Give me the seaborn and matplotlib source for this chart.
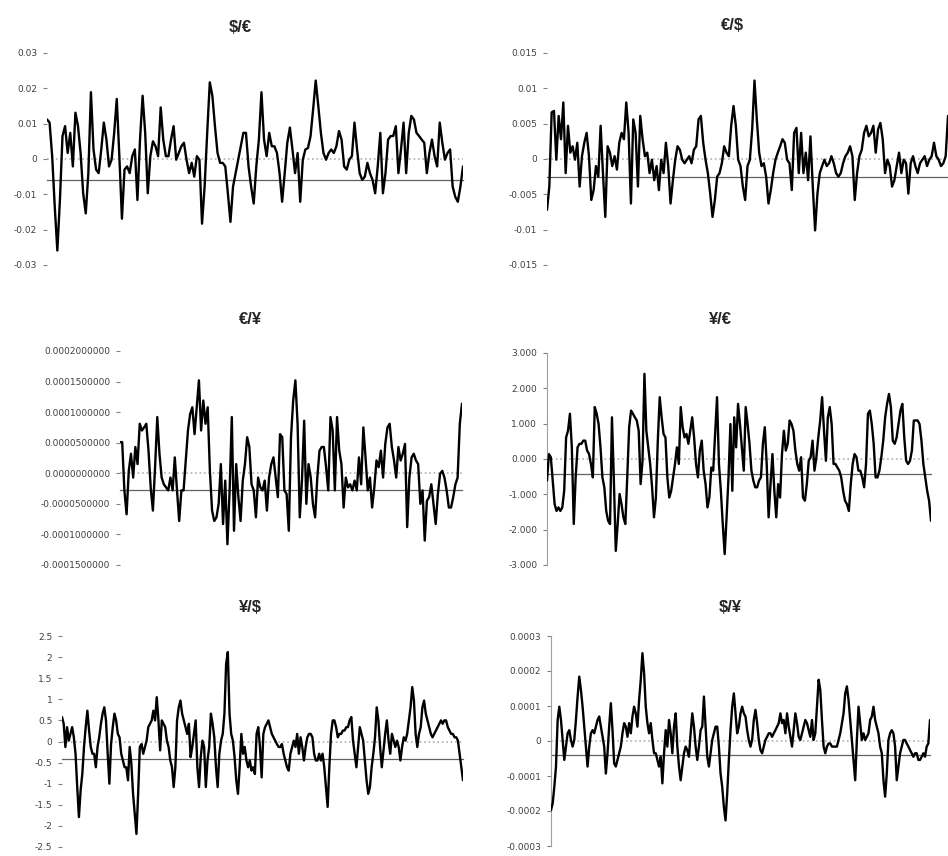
import numpy as np
import pandas as pd
import matplotlib
matplotlib.use("Agg")
import matplotlib.pyplot as plt
import matplotlib.ticker as mticker
import seaborn as sns

# ---------- data ----------
titles = ["$/€", "€/$", "€/¥", "¥/€", "¥/$", "$/¥"]

# $/€ , values in 1e-3
usd_eur = np.array([11.2, 10.3, 0.8, -13.5, -25.9, -11.6, 6.5, 9.3, 1.7, 7.4, -2.1, 13.1, 9.3, 1.7, -9.7,
                    -15.4, -4.0, 18.9, 2.7, -3.0, -4.0, 2.7, 10.3, 5.5, -2.1, -0.2, 7.4, 17.0, 0.8, -16.9,
                    -3.0, -2.1, -4.0, 0.8, 2.7, -11.6, 5.5, 17.9, 7.4, -9.7, 0.8, 5.0, 3.6, 0.8, 14.6, 5.5,
                    0.8, 0.8, 5.5, 9.3, -0.2, 1.7, 3.6, 4.6, -0.2, -4.0, -1.1, -5.0, 0.8, -0.2, -18.3, -7.8,
                    7.4, 21.7, 17.9, 9.3, 1.7, -1.1, -1.1, -2.1, -9.7, -17.8, -7.8, -4.0, -0.2, 3.6, 7.4,
                    7.4, -2.1, -7.8, -12.6, -2.1, 5.5, 18.9, 5.5, 0.8, 7.4, 3.6, 3.6, 1.7, -4.0, -12.1,
                    -4.0, 4.6, 8.9, 2.7, -4.0, 1.7, -12.1, -0.2, 2.7, 3.1, 6.5, 14.1, 22.2, 15.0, 7.4, 1.7,
                    -0.2, 1.7, 2.7, 1.7, 3.6, 7.9, 5.5, -2.1, -3.0, -0.2, 0.8, 10.3, 2.7, -4.0, -5.9, -5.0,
                    -1.1, -4.0, -5.9, -9.7, -2.1, 7.4, -9.7, -4.0, 5.5, 6.5, 6.5, 9.3, -4.0, 2.7, 10.3,
                    -4.0, 7.4, 12.2, 11.2, 7.4, 6.5, 5.5, 4.6, -4.0, 1.7, 5.5, 0.8, -2.1, 10.3, 4.6, -0.2,
                    1.7, 2.7, -7.8, -10.7, -12.1, -7.8, -2.1]) * 1e-3

# €/$ , values in 1e-3
eur_usd = np.array([-7.2, -3.9, 6.6, 6.8, -0.1, 6.1, 2.8, 8.0, -2.0, 4.7, 0.9, 1.8, -0.1, 2.3, -3.9, 0.4,
                    2.3, 3.7, 0.4, -5.8, -4.4, -1.0, -2.5, 4.7, -2.0, -8.2, 1.8, 0.9, -1.0, 0.4, -1.5, 2.3,
                    3.7, 2.8, 8.0, 3.7, -6.3, 5.6, 3.7, -3.9, 6.1, 2.8, 0.4, 0.9, -2.0, -0.1, -3.0, -1.0,
                    -4.4, -0.1, -2.0, 2.3, -1.0, -6.3, -3.0, -0.1, 1.8, 1.3, -0.1, -0.6, -0.1, 0.4, -0.6,
                    1.3, 1.8, 5.6, 6.1, 2.3, -0.1, -2.0, -4.9, -8.2, -5.8, -2.5, -2.0, -0.6, 1.8, 0.9, 0.4,
                    4.7, 7.5, 4.7, -0.1, -1.0, -3.9, -5.8, -1.0, -0.1, 4.2, 11.1, 5.6, 0.9, -1.0, -0.6,
                    -2.5, -6.3, -4.4, -2.0, -0.1, 0.9, 1.8, 2.8, 2.3, -0.1, -0.6, -4.4, 3.7, 4.4, -2.0, 3.7,
                    -2.0, 0.9, -3.0, 3.2, -3.9, -10.1, -4.9, -2.0, -1.0, -0.1, -1.0, -0.6, 0.4, -0.6, -2.0,
                    -2.5, -2.0, -0.6, 0.4, 0.9, 1.8, 0.4, -5.8, -2.0, 0.4, 1.3, 3.7, 4.7, 3.2, 3.7, 4.7,
                    0.9, 4.2, 5.1, 2.8, -2.0, -0.1, -1.0, -3.9, -3.0, -1.0, 0.9, -2.0, -0.1, -0.6, -4.9,
                    -0.6, 0.4, -1.0, -2.0, -0.6, -0.1, 0.4, -1.0, -0.1, 0.4, 2.3, 0.4, -0.1, -1.0, -0.6,
                    0.4, 6.1]) * 1e-3

# €/¥ , values in 1e-5
eur_jpy = np.array([5.1, 5.1, -2.8, -6.7, 0.4, 3.2, -0.7, 4.3, 1.5, 8.1, 7.0, 7.5, 8.1, 3.7, -2.3, -6.1,
                    1.0, 9.2, 3.2, -0.7, -1.8, -2.3, -2.8, -0.7, -2.8, 2.6, -2.8, -7.8, -2.8, -2.8, 2.1,
                    7.0, 9.7, 10.8, 6.4, 10.8, 15.2, 7.0, 11.9, 8.1, 10.8, 0.4, -6.1, -7.8, -7.2, -5.0,
                    1.5, -8.3, -1.2, -11.6, -2.8, 9.2, -9.4, 1.5, -3.9, -7.8, -1.2, 1.5, 5.9, 4.3, -1.8,
                    -2.8, -7.2, -0.7, -2.3, -2.8, -1.2, -6.1, -0.7, 1.5, 2.6, -0.7, -3.9, 6.4, 5.9, -2.8,
                    -3.4, -9.4, 5.9, 11.9, 15.2, 8.1, -7.2, -1.2, 8.6, -5.0, 1.5, -0.7, -5.0, -7.2, -0.7,
                    3.7, 4.3, 4.3, 1.0, -2.8, 9.2, 7.0, -2.8, 9.2, 3.7, 1.5, -5.6, -0.7, -2.3, -1.8, -2.8,
                    -1.2, -2.8, 2.6, -1.8, 7.5, 2.6, -2.8, -0.7, -5.6, -2.3, 2.1, 1.0, 3.7, -0.7, 4.8, 7.5,
                    8.1, 4.3, 2.1, -0.7, 4.3, 2.1, 3.2, 4.8, -8.8, -0.7, 2.6, 3.2, 2.1, 1.5, -5.0, -2.8,
                    -11.0, -4.5, -3.9, -1.8, -5.0, -8.3, -3.4, -0.1, 0.4, -0.7, -2.8, -5.6, -5.6, -3.9,
                    -1.8, -0.7, 8.1, 11.4]) * 1e-5

# ¥/€
jpy_eur = np.array([-0.61, 0.14, 0.05, -0.61, -1.28, -1.47, -1.37, -1.47, -1.37, -0.90, 0.61, 0.80, 1.28,
                    0.33, -1.84, -0.52, 0.33, 0.43, 0.43, 0.52, 0.52, 0.24, 0.14, -0.14, -0.52, 1.47, 1.28,
                    0.99, 0.33, -0.52, -0.80, -1.47, -1.75, -1.84, 1.18, -0.61, -2.60, -1.84, -0.99, -1.28,
                    -1.65, -1.84, -0.52, 0.90, 1.37, 1.28, 1.18, 1.09, 0.80, -0.71, -0.05, 2.41, 0.80, 0.33,
                    -0.14, -0.80, -1.65, -1.09, 0.52, 1.75, 1.18, 0.71, 0.61, -0.52, -1.09, -0.90, -0.52,
                    -0.14, 0.33, -0.14, 1.47, 0.90, 0.61, 0.71, 0.43, 0.80, 1.18, 0.61, -0.14, -0.52, 0.24,
                    0.52, -0.33, -0.71, -1.37, -1.09, -0.24, -0.33, 0.71, 1.75, -0.14, -0.90, -1.84, -2.69,
                    -1.65, -0.52, 0.99, -0.90, 1.18, 0.33, 1.56, 0.99, 0.33, -0.33, 1.47, 0.99, 0.43,
                    -0.33, -0.61, -0.80, -0.80, -0.61, -0.52, 0.43, 0.90, -0.14, -1.65, -0.71, 0.14, -0.90,
                    -1.65, -0.71, -1.09, 0.14, 0.80, 0.24, 0.43, 1.09, 0.99, 0.80, 0.24, -0.14, -0.33, 0.05,
                    -1.09, -1.18, -0.71, -0.05, 0.05, 0.52, -0.33, 0.05, 0.61, 1.09, 1.75, 0.80, -0.05,
                    1.18, 1.47, 0.99, -0.14, -0.14, -0.24, -0.33, -0.52, -0.90, -1.18, -1.28, -1.47, -0.71,
                    -0.14, 0.14, 0.05, -0.33, -0.33, -0.52, -0.80, -0.14, 1.28, 1.37, 0.99, 0.43, -0.52,
                    -0.52, -0.33, 0.05, 0.52, 1.18, 1.56, 1.84, 1.47, 0.52, 0.43, 0.61, 0.99, 1.37, 1.56,
                    0.61, -0.05, -0.14, -0.05, 0.24, 1.09, 1.09, 1.09, 0.99, 0.52, -0.14, -0.52, -0.90,
                    -1.18, -1.75])

# ¥/$
jpy_usd = np.array([0.58, 0.42, -0.13, 0.34, 0.02, 0.18, 0.34, 0.10, -0.29, -1.08, -1.79, -1.16, -0.77,
                    -0.13, 0.34, 0.73, 0.26, -0.13, -0.29, -0.29, -0.61, -0.13, 0.10, 0.42, 0.66, 0.81,
                    0.50, -0.29, -1.00, -0.06, 0.34, 0.66, 0.50, 0.18, 0.10, -0.29, -0.45, -0.61, -0.61,
                    -0.92, -0.13, -0.53, -1.24, -1.71, -2.19, -1.24, -0.13, -0.06, -0.29, -0.13, 0.02,
                    0.34, 0.42, 0.50, 0.73, 0.50, 1.05, 0.50, -0.21, 0.50, 0.42, 0.34, 0.02, -0.13, -0.45,
                    -0.61, -1.08, -0.61, 0.50, 0.81, 0.97, 0.66, 0.50, 0.34, 0.18, 0.42, -0.37, -0.13,
                    0.18, 0.50, -0.61, -1.08, -0.37, 0.02, -0.13, -1.08, -0.45, -0.13, 0.66, 0.42, 0.10,
                    -0.61, -1.08, -0.29, 0.02, 0.18, 0.66, 1.84, 2.12, 0.66, 0.18, 0.02, -0.37, -0.92,
                    -1.24, -0.61, 0.18, -0.29, -0.13, -0.45, -0.61, -0.45, -0.69, -0.61, -0.77, 0.18, 0.34,
                    -0.13, -0.85, 0.18, 0.34, 0.42, 0.50, 0.34, 0.18, 0.10, 0.02, -0.06, -0.13, -0.13,
                    -0.06, -0.29, -0.45, -0.61, -0.69, -0.29, -0.13, 0.02, -0.13, 0.18, -0.29, 0.10, -0.13,
                    -0.45, -0.13, 0.10, 0.18, 0.18, 0.10, -0.29, -0.45, -0.45, -0.29, -0.45, -0.29, -0.61,
                    -1.08, -1.55, -0.61, 0.18, 0.50, 0.50, 0.34, 0.10, 0.18, 0.18, 0.26, 0.26, 0.34, 0.34,
                    0.50, 0.58, 0.02, -0.29, -0.61, -0.13, 0.34, 0.18, 0.02, -0.45, -0.92, -1.24, -1.08,
                    -0.61, -0.29, 0.10, 0.81, 0.50, -0.13, -0.61, -0.21, 0.18, 0.50, 0.02, -0.29, 0.18,
                    0.02, -0.13, 0.02, -0.13, -0.45, -0.13, 0.10, 0.02, 0.18, 0.50, 0.81, 1.29, 0.97, 0.18,
                    -0.13, 0.18, 0.34, 0.81, 0.97, 0.66, 0.50, 0.34, 0.18, 0.10, 0.18, 0.26, 0.34, 0.42,
                    0.50, 0.42, 0.50, 0.50, 0.34, 0.26, 0.18, 0.18, 0.10, 0.10, 0.02, -0.29, -0.61, -0.92])

# $/¥ , values in 1e-4
usd_jpy = np.array([-1.98, -1.78, -1.31, -0.73, 0.60, 0.98, 0.60, 0.03, -0.54, -0.16, 0.22, 0.31, 0.03,
                    -0.16, 0.03, 0.60, 1.27, 1.84, 1.46, 0.98, 0.41, -0.16, -0.73, -0.16, 0.22, 0.31, 0.22,
                    0.41, 0.60, 0.70, 0.41, 0.12, -0.16, -0.93, -0.35, 0.41, 1.08, 0.31, -0.64, -0.73,
                    -0.54, -0.35, -0.16, 0.22, 0.51, 0.41, 0.12, 0.51, 0.22, 0.70, 0.98, 0.79, 0.41, 1.17,
                    1.75, 2.51, 1.94, 0.98, 0.51, 0.22, 0.51, 0.03, -0.35, -0.35, -0.54, -0.73, -0.45,
                    -1.21, -0.35, 0.31, -0.16, 0.60, 0.22, -0.35, 0.41, 0.79, -0.16, -0.73, -1.12, -0.73,
                    -0.35, -0.16, -0.26, -0.45, 0.22, 0.79, 0.41, -0.16, -0.54, -0.16, 0.31, 0.41, 1.27,
                    0.41, -0.45, -0.73, -0.35, 0.03, 0.22, 0.41, 0.41, -0.16, -0.93, -1.31, -1.88, -2.27,
                    -1.50, -0.54, 0.31, 0.98, 1.36, 0.79, 0.22, 0.41, 0.79, 0.98, 0.79, 0.70, 0.31, 0.03,
                    -0.16, 0.03, 0.60, 0.89, 0.51, 0.03, -0.26, -0.35, -0.16, 0.03, 0.12, 0.22, 0.22, 0.12,
                    0.22, 0.31, 0.41, 0.51, 0.79, 0.51, 0.60, 0.22, 0.79, 0.41, 0.12, -0.16, 0.31, 0.79,
                    0.51, 0.12, 0.03, 0.22, 0.41, 0.60, 0.51, 0.31, 0.12, 0.60, 0.03, 0.22, 0.98, 1.75,
                    1.46, 0.60, -0.16, -0.35, -0.16, -0.07, -0.07, -0.16, -0.16, -0.16, -0.16, 0.03, 0.22,
                    0.51, 0.79, 1.36, 1.56, 1.17, 0.60, 0.03, -0.54, -1.12, 0.03, 0.98, 0.51, 0.03, 0.22,
                    0.03, 0.12, 0.22, 0.60, 0.70, 0.98, 0.60, 0.41, 0.22, -0.16, -0.35, -1.12, -1.59,
                    -0.93, 0.03, 0.22, 0.31, 0.22, -0.16, -1.12, -0.73, -0.35, -0.16, 0.03, 0.03, -0.07,
                    -0.16, -0.26, -0.35, -0.45, -0.35, -0.35, -0.54, -0.54, -0.45, -0.35, -0.45, -0.16,
                    -0.07, 0.60]) * 1e-4

series = [usd_eur, eur_usd, eur_jpy, jpy_eur, jpy_usd, usd_jpy]

yticks = [
    [-0.03, -0.02, -0.01, 0, 0.01, 0.02, 0.03],
    [-0.015, -0.01, -0.005, 0, 0.005, 0.01, 0.015],
    [-0.00015, -0.0001, -0.00005, 0, 0.00005, 0.0001, 0.00015, 0.0002],
    [-3, -2, -1, 0, 1, 2, 3],
    [-2.5, -2, -1.5, -1, -0.5, 0, 0.5, 1, 1.5, 2, 2.5],
    [-0.0003, -0.0002, -0.0001, 0, 0.0001, 0.0002, 0.0003],
]
tick_fmt = ["{:g}", "{:g}", "{:.10f}", "{:.3f}", "{:g}", "{:g}"]
# value where the horizontal (date) axis crosses
axis_cross = [-0.006, -0.0025, -0.000027, -0.43, -0.41, -0.00004]

# ---------- layout ----------
W, H = 948, 856
# axes boxes in pixels: left, top, right, bottom
boxes = [(47, 53, 463, 265), (547, 53, 948, 265),
         (120, 351, 462, 565), (547, 353, 931, 565),
         (62, 636, 463, 847), (551, 636, 930, 846)]
title_pos = [(240, 28), (732, 26), (250, 320), (720, 320), (250, 607), (730, 607)]
show_left = [False, False, False, True, False, True]

sns.set_style("white")
plt.rcParams['font.family'] = ['DejaVu Sans']

fig = plt.figure(figsize=(W / 100, H / 100), dpi=100)

for i, (vals, (l, t, r, b)) in enumerate(zip(series, boxes)):
    ax = fig.add_axes([l / W, 1 - b / H, (r - l) / W, (b - t) / H])
    df = pd.DataFrame({'t': np.arange(len(vals)), 'v': vals})
    ax.axhline(0, color='#b0b0b0', ls=':', lw=1.2, zorder=1)
    sns.lineplot(data=df, x='t', y='v', ax=ax, color='black', lw=1.7, zorder=3)

    ax.set_xlim(0, len(vals) - 1)
    ax.set_ylim(yticks[i][0], yticks[i][-1])
    ax.set_yticks(yticks[i])
    fmt = tick_fmt[i]
    ax.yaxis.set_major_formatter(mticker.FuncFormatter(
        lambda v, p, f=fmt: f.format(0.0 if abs(v) < 1e-12 else v)))
    ax.set_xlabel('')
    ax.set_ylabel('')

    for s in ['top', 'right']:
        ax.spines[s].set_visible(False)
    ax.spines['left'].set_visible(show_left[i])
    ax.spines['left'].set_color('#a0a0a0')
    ax.spines['bottom'].set_position(('data', axis_cross[i]))
    ax.spines['bottom'].set_color('#606060')
    ax.spines['bottom'].set_linewidth(0.9)
    ax.spines['bottom'].set_zorder(2)

    step = max(len(vals) // 24, 1)
    ax.set_xticks(np.arange(0, len(vals), step))
    ax.tick_params(axis='x', direction='inout', length=4, width=0.8, color='#606060',
                   labelbottom=False)
    ax.tick_params(axis='y', direction='out', length=3, width=0.8, color='#808080',
                   labelsize=6.5, labelcolor='#404040', pad=4, left=True)
    ax.patch.set_alpha(0)

    fig.text(title_pos[i][0] / W, 1 - title_pos[i][1] / H, titles[i],
             ha='center', va='center', fontsize=12, fontweight='bold',
             family='Liberation Sans')

fig.savefig('out.png', dpi=100, facecolor='white')
